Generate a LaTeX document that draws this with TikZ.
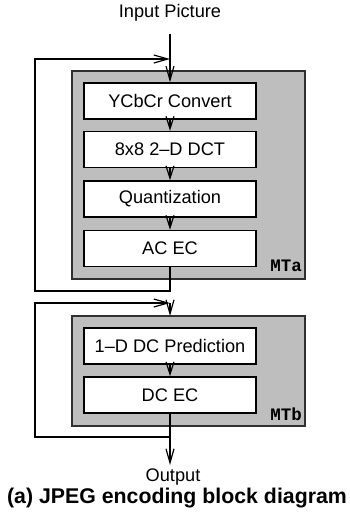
\documentclass[tikz,border=0pt]{standalone}
\usepackage{fontspec}
\setmainfont{Liberation Sans}
\newfontfamily\monob{Liberation Mono}
\usetikzlibrary{arrows.meta}
\definecolor{mtgray}{HTML}{BEBEBE}
\definecolor{mtborder}{HTML}{303030}
\begin{document}
\begin{tikzpicture}[x=1pt,y=-1pt,
  every node/.style={font=\fontsize{18.2}{20}\selectfont},
  stage/.style={draw=black, line width=1.4pt, fill=white, minimum width=172pt, minimum height=36pt, inner sep=0pt},
  group/.style={draw=mtborder, line width=1.6pt, fill=mtgray},
  grouplabel/.style={font=\monob\bfseries\fontsize{17.5}{18}\selectfont, anchor=east, inner sep=0pt},
  conn/.style={line width=1.2pt},
  arr/.style={conn, -{Straight Barb[length=14pt,width=8pt,line width=1.2pt]}},
  sarr/.style={conn, -{Straight Barb[length=12.5pt,width=8pt,line width=1.2pt]}}
]
\useasboundingbox (0,0) rectangle (349,514);
\path[fill=white] (0,0) rectangle (349,514);
% groups
\draw[group] (72,71) rectangle (305,279);
\draw[group] (72,316) rectangle (305,426);
\node[grouplabel] (la) at (302,266) {MTa};
\node[grouplabel] (lb) at (302,414) {MTb};
% stages
\node[stage] (b1) at (170,101) {YCbCr Convert};
\node[stage] (b2) at (170,149.5) {8x8 2\textendash D DCT};
\node[stage] (b3) at (170,199) {Quantization};
\node[stage] (b4) at (170,248.5) {AC EC};
\node[stage] (b5) at (170,346) {1\textendash D DC Prediction};
\node[stage] (b6) at (170,395) {DC EC};
% texts
\node (in) at (170,13) {Input Picture};
\node (out) at (173,477) {Output};
\node[font=\bfseries\fontsize{21.3}{24}\selectfont] (cap) at (177,498) {(a) JPEG encoding block diagram};
% coordinates
\coordinate (c0) at (170,34);
\coordinate (j1) at (170,59);
\coordinate (j2) at (170,291);
\coordinate (j3) at (170,303);
\coordinate (j4) at (170,437);
\coordinate (o1) at (170,465);
% connectors
\draw[arr] (c0) -- (b1.north);
\draw[sarr] (b1.south) -- (b2.north);
\draw[sarr] (b2.south) -- (b3.north);
\draw[sarr] (b3.south) -- (b4.north);
\draw[arr] (b4.south) -- (j2) -- (35,291) -- (35,59) -- (j1);
\draw[arr] (j3) -- (170,316);
\draw[sarr] (b5.south) -- (b6.north);
\draw[arr] (b6.south) -- (j4) -- (35,437) -- (35,303) -- (j3);
\draw[arr] (j4) -- (o1);
\end{tikzpicture}
\end{document}
